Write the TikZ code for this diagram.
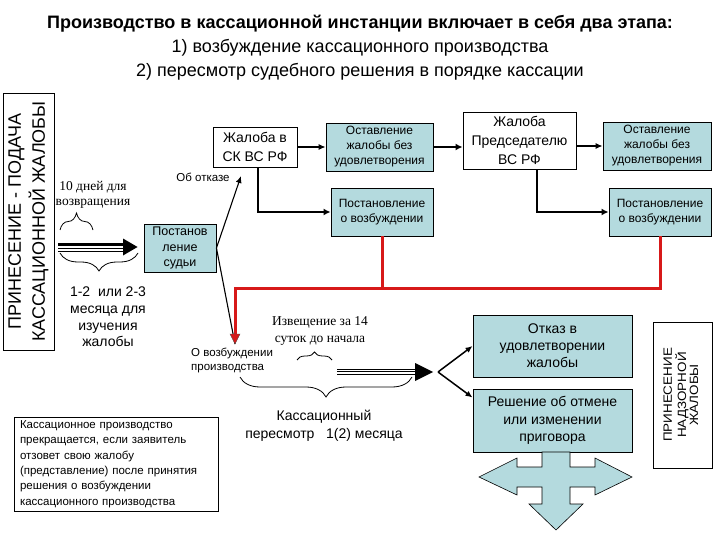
\documentclass[tikz,border=0pt]{standalone}
\usepackage{fontspec}
\setmainfont{Liberation Sans}
\newfontfamily\serifrm{Liberation Serif}
\usetikzlibrary{arrows.meta,decorations.pathreplacing,calc}
\definecolor{lblue}{RGB}{180,218,222}
\definecolor{rline}{RGB}{215,25,25}
\begin{document}
\begin{tikzpicture}[x=1pt,y=-1pt,
  box/.style={draw=black,line width=0.9pt,inner sep=0pt,align=center},
  bbox/.style={box,fill=lblue},
  lbl/.style={inner sep=0pt,align=center},
  thinarr/.style={line width=1.1pt,-{Latex[length=7pt,width=6pt]}},
  thickarr/.style={line width=2pt,-{Latex[length=7pt,width=7pt]}},
  redl/.style={draw=rline,line width=3pt},
  brc/.style={decorate,decoration={brace,amplitude=#1},line width=0.8pt}
]
\useasboundingbox (0,0) rectangle (720,540);
\fill[white] (0,0) rectangle (720,540);

% title
\node[lbl,font=\fontsize{18}{24}\selectfont] (title) at (360,47.5)
 {\textbf{Производство в кассационной инстанции включает в себя два этапа:}\\
  1) возбуждение кассационного производства\\
  2) пересмотр судебного решения в порядке кассации};

% left vertical box
\node[box,rotate=90,minimum width=257pt,minimum height=51pt,font=\fontsize{18}{24}\selectfont] (lb) at (28.5,221.5)
 {ПРИНЕСЕНИЕ - ПОДАЧА\\КАССАЦИОННОЙ ЖАЛОБЫ};

% boxes
\node[box,minimum width=84pt,minimum height=40pt,font=\fontsize{14}{19}\selectfont] (cs) at (255,147) {Жалоба в\\СК ВС РФ};
\node[bbox,minimum width=107pt,minimum height=48pt,font=\fontsize{12}{15}\selectfont] (o1) at (379.5,147) {Оставление\\жалобы без\\удовлетворения};
\node[bbox,minimum width=102pt,minimum height=48pt,font=\fontsize{12}{15}\selectfont] (p1) at (382,212) {Постановление\\о возбуждении};
\node[box,minimum width=113pt,minimum height=57pt,font=\fontsize{14}{19}\selectfont] (jp) at (519.5,140.5) {Жалоба\\Председателю\\ВС РФ};
\node[bbox,minimum width=108pt,minimum height=48pt,font=\fontsize{12}{15}\selectfont] (o2) at (657,146) {Оставление\\жалобы без\\удовлетворения};
\node[bbox,minimum width=102pt,minimum height=48pt,font=\fontsize{12}{15}\selectfont] (p2) at (660,212) {Постановление\\о возбуждении};
\node[bbox,minimum width=72pt,minimum height=48pt,font=\fontsize{12.5}{15.5}\selectfont] (ps) at (180,248) {Постанов\\ление\\судьи};
\node[bbox,minimum width=159pt,minimum height=62pt,font=\fontsize{14}{17}\selectfont] (ot) at (552.5,346) {Отказ в\\удовлетворении\\жалобы};
\node[bbox,minimum width=159pt,minimum height=63pt,font=\fontsize{14}{17.5}\selectfont] (rs) at (552.5,420.5) {Решение об отмене\\или изменении\\приговора};
\node[box,rotate=90,minimum width=146pt,minimum height=59pt,font=\fontsize{12}{11.8}\selectfont] (rb) at (682.5,395)
 {\scalebox{1.12}[1]{\begin{tabular}{@{}c@{}}ПРИНЕСЕНИЕ\\НАДЗОРНОЙ\\ЖАЛОБЫ\end{tabular}}};
\node[box,minimum width=204pt,minimum height=94pt,text width=192pt,align=left,font=\fontsize{11.5}{15.3}\selectfont] (kb) at (116,464)
 {Кассационное производство\\прекращается, если заявитель\\отзовет свою жалобу\\(представление) после принятия\\решения о возбуждении\\кассационного производства};

% free labels
\node[lbl,font=\serifrm\fontsize{13.5}{15.5}\selectfont] (dn) at (93,195) {10 дней для\\возвращения};
\node[lbl,font=\fontsize{14}{16.7}\selectfont] (ms) at (108,317) {1-2~ или 2-3\\месяца для\\изучения\\жалобы};
\node[lbl,font=\fontsize{11.5}{14}\selectfont] (okz) at (203,177) {Об отказе};
\node[lbl,anchor=west,align=left,font=\fontsize{11.5}{14}\selectfont] (ovz) at (191,360) {О возбуждении\\производства};
\node[lbl,font=\serifrm\fontsize{13.5}{17}\selectfont] (izv) at (320,330.5) {Извещение за 14\\суток до начала};
\node[lbl,font=\fontsize{14}{18}\selectfont] (ksp) at (324,426) {Кассационный\\пересмотр~~ 1(2) месяца};

% coordinates
\coordinate (okt) at (241,176);
\coordinate (rt) at (235,288);
\coordinate (vz) at (235,344);
\coordinate (fk) at (438,372);

% top connectors
\draw[thinarr] (cs.east) -- (o1.west);
\draw[thickarr] (o1.east) -- (o1.east -| jp.west);
\draw[thinarr] (o2.west -| jp.east) -- (o2.west);
\draw[thickarr] ([xshift=3pt]cs.south) |- (p1.west);
\draw[thickarr] ([xshift=17.5pt]jp.south) |- (p2.west);

% red lines
\draw[redl] (p1.south) -- (p1.south |- rt);
\draw[redl] (p2.south) |- (rt) -- ($(vz)+(0,-6)$);
% judge decision branches
\draw[thinarr] (ps.east) -- (okt);
\draw[line width=1.1pt] (ps.east) -- (vz);
\fill[rline,draw=black!70,line width=0.4pt] ($(vz)+(-5,-10)$) -- (vz) -- ($(vz)+(5,-10)$) -- cycle;

% triple arrow 1
\draw[line width=2.6pt] (58,244.5) -- (124,244.5);
\draw[line width=1pt] (58,248.3) -- (124,248.3);
\draw[line width=1pt] (58,251.2) -- (124,251.2);
\fill (123,238.5) -- ($(ps.west)+(-6,-1)$) -- (123,255.5) -- cycle;

% triple arrow 2
\draw[line width=0.9pt] (337,369.3) -- (417,369.3);
\draw[line width=0.9pt] (337,371.8) -- (417,371.8);
\draw[line width=0.9pt] (337,374.3) -- (417,374.3);
\fill (415,363) -- (433,372) -- (415,381) -- cycle;
\draw[thinarr,line width=1.5pt] (fk) -- (ot.west);
\draw[thinarr,line width=1.5pt] (fk) -- ($(rs.north west)+(0,9)$);

% braces
\draw[brc=17] (60,230) -- (93,230);
\draw[brc=18] (138,253) -- (60,253);
\draw[brc=8] (297,360) -- (332,360);
\draw[brc=20] (412,377) -- (240,377);

% four-way arrow
\filldraw[fill=lblue,draw=black,line width=0.6pt]
 (542,452) -- (542,467) -- (517,467) -- (517,458) -- (479,477) -- (517,495) -- (517,487) -- (542,487)
 -- (542,504) -- (529,504) -- (556,530) -- (583,504) -- (570,504) -- (570,487) -- (595,487) -- (595,495)
 -- (632,477) -- (595,458) -- (595,467) -- (570,467) -- (570,452) -- cycle;
\end{tikzpicture}
\end{document}
